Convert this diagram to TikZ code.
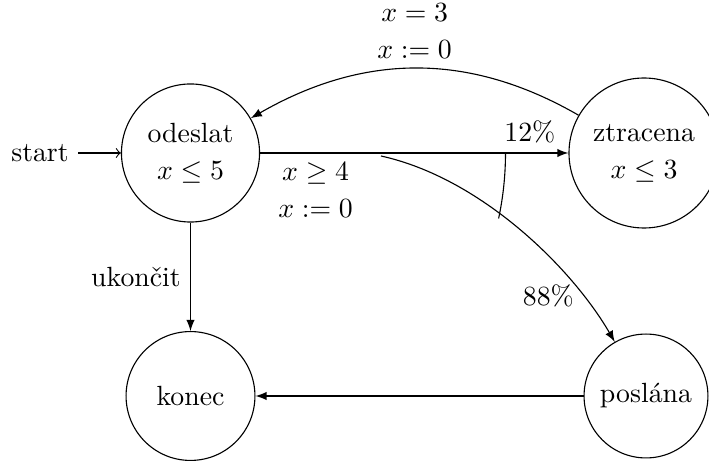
\documentclass[tikz,border=0pt]{standalone}
\usetikzlibrary{arrows, arrows.meta}
\begin{document}
\begin{tikzpicture}[x=0.36pt, y=0.36pt, >=latex,
  stav/.style={circle, draw, inner sep=0pt, align=center},
  lab/.style={align=center}]
\useasboundingbox (0,0) rectangle (709,462);
\node[stav, minimum size=49.7pt] (od) at (190.5,309) {odeslat\\[1.3pt] $x\le 5$};
\node[stav, minimum size=54pt] (zt) at (644,309) {ztracena\\[1.3pt] $x\le 3$};
\node[stav, minimum size=46.4pt] (ko) at (190.5,66) {konec};
\node[stav, minimum size=44.6pt] (po) at (646,66) {poslána};
\node (st) at (40,309) {start};
\coordinate (br) at (381,306);
\draw[-to] (st) -- (od);
\draw[->] (od) -- node[pos=0.18, below, lab]{$x\ge 4$\\[1.3pt]$x:=0$}
  node[pos=0.875, above]{12\%} (zt);
\draw[->] (br) .. controls (481,284) and (572,194) .. node[pos=0.8, left]{88\%} (po.120);
\draw (od.center) ++(0:315) arc[start angle=0, end angle=-12, radius=315];
\draw[->] (zt.150) to[out=150, in=30] node[above, lab]{$x=3$\\[1.3pt]$x:=0$} (od.30);
\draw[->] (od) -- node[left]{ukončit} (ko);
\draw[->] (po) -- (ko);
\end{tikzpicture}
\end{document}
